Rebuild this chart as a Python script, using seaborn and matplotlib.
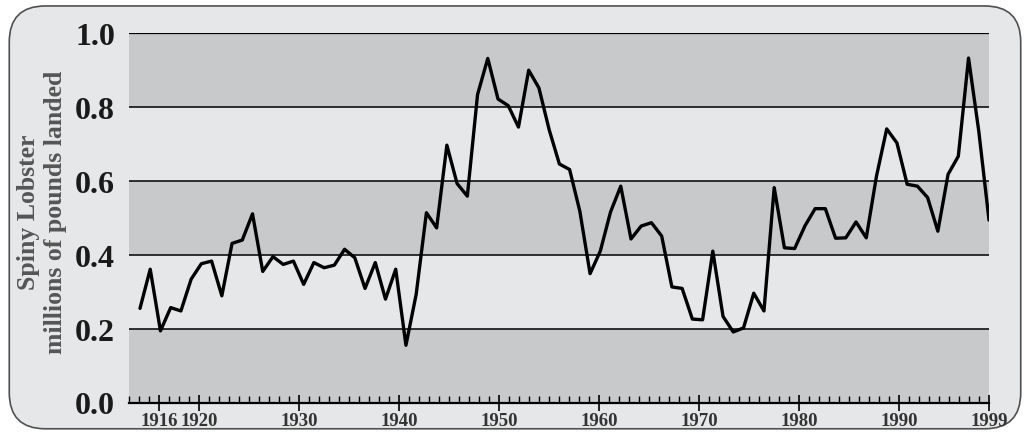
import numpy as np
import pandas as pd
import seaborn as sns
import matplotlib
matplotlib.use("Agg")
import matplotlib.pyplot as plt
from matplotlib.patches import FancyBboxPatch

# --- datos ---
anios = list(range(1916, 2000))
libras = [
    0.255, 0.361, 0.194, 0.257, 0.248, 0.334, 0.376, 0.383, 0.289, 0.431,
    0.440, 0.511, 0.355, 0.395, 0.374, 0.383, 0.320, 0.379, 0.365, 0.372,
    0.415, 0.392, 0.309, 0.379, 0.280, 0.361, 0.155, 0.293, 0.514, 0.473,
    0.697, 0.593, 0.559, 0.834, 0.932, 0.822, 0.804, 0.746, 0.900, 0.852,
    0.739, 0.646, 0.631, 0.518, 0.349, 0.410, 0.516, 0.586, 0.443, 0.478,
    0.487, 0.451, 0.313, 0.309, 0.226, 0.224, 0.410, 0.233, 0.191, 0.202,
    0.296, 0.248, 0.582, 0.419, 0.417, 0.478, 0.525, 0.525, 0.445, 0.446,
    0.489, 0.446, 0.613, 0.741, 0.703, 0.591, 0.586, 0.555, 0.464, 0.618,
    0.667, 0.933, 0.735, 0.494,
]
etiquetas_x = [1916, 1920, 1930, 1940, 1950, 1960, 1970, 1980, 1990, 1999]
ticks_y = [0.0, 0.2, 0.4, 0.6, 0.8, 1.0]

df = pd.DataFrame({"anio": anios, "libras": libras})

sns.set_style("white")
plt.rcParams["font.family"] = ["Liberation Serif", "DejaVu Serif"]

oscuro = "#c8c9cb"
claro = "#e6e7e8"

fig = plt.figure(figsize=(10.3, 4.35), dpi=100, facecolor="white")

# marco redondeado (detras de todo)
marco = FancyBboxPatch((0.009, 0.012), 0.982, 0.972,
                       boxstyle="round,pad=0,rounding_size=0.035",
                       transform=fig.transFigure, facecolor=claro,
                       edgecolor="#505050", linewidth=1.2, zorder=-5,
                       mutation_aspect=1030 / 435)
fig.patches.append(marco)

ax = fig.add_axes([129 / 1030, 31.5 / 435, 860 / 1030, 369.2 / 435])
ax.set_facecolor("none")
ax.set_xlim(1913, 1999)
ax.set_ylim(0, 1.0)

# bandas alternas
for i in range(5):
    ax.axhspan(i * 0.2, (i + 1) * 0.2, color=oscuro if i % 2 == 0 else claro,
               lw=0, zorder=0)
for y in ticks_y[1:]:
    ax.axhline(y, color="black", lw=1.1 if y < 1.0 else 1.6, zorder=1)

for s in ["top", "right", "left"]:
    ax.spines[s].set_visible(False)
ax.spines["bottom"].set_color("black")
ax.spines["bottom"].set_linewidth(1.6)

ax.set_xticks(etiquetas_x)
ax.set_xticklabels([str(a) for a in etiquetas_x], fontsize=13.5,
                   fontweight="bold", color="#333333")
ax.set_xticks(range(1913, 2000), minor=True)
ax.tick_params(axis="x", which="major", direction="inout", length=11,
               width=1.2, color="black", pad=1)
ax.tick_params(axis="x", which="minor", direction="in", length=5,
               width=1.0, color="black")
ax.set_yticks(ticks_y)
ax.set_yticklabels([f"{v:.1f}" for v in ticks_y], fontsize=23,
                   fontweight="bold", color="#1a1a1a")
ax.tick_params(axis="y", length=0, pad=10)

# eje secundario para la serie
ax2 = ax.twiny()
ax2.set_xlim(1914.925, 1999)
ax2.set_ylim(0, 1.0)
sns.lineplot(data=df, x="anio", y="libras", ax=ax2, color="black", lw=2.4)
ax2.set_axis_off()

fig.text(0.041, 0.512, "Spiny Lobster\nmillions of pounds landed",
         rotation=90, ha="center", va="center", multialignment="center",
         fontsize=18.5, fontweight="bold", color="#555555", linespacing=1.2)

fig.savefig("out.png", dpi=100, facecolor="white")
